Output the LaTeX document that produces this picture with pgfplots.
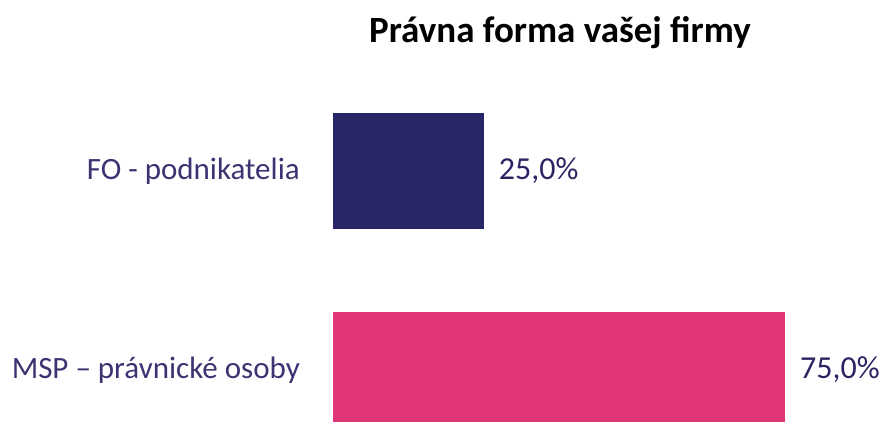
\documentclass[border=0pt]{standalone}
\usepackage{pgfplots}
\pgfplotsset{compat=1.18}
\usepackage{fontspec}
\setmainfont{Carlito}
\definecolor{navybar}{HTML}{282666}
\definecolor{pinkbar}{HTML}{E03577}
\definecolor{catlab}{HTML}{3B3472}
\definecolor{vallab}{HTML}{2A2562}
\begin{document}
\begin{tikzpicture}
\begin{axis}[
  at={(333pt,-421pt)}, anchor=south west,
  scale only axis, width=452pt, height=349.4pt,
  xbar, bar width=116pt,
  xmin=0, xmax=75, ymin=-0.5, ymax=1.256,
  y dir=reverse,
  axis line style={draw=none},
  xtick=\empty,
  ytick={0,1},
  yticklabels={FO - podnikatelia, MSP – právnické osoby},
  major tick length=0pt,
  y tick label style={inner sep=0pt, anchor=east, xshift=-33pt, font=\fontsize{31}{36}\selectfont, text=catlab},
  /pgf/number format/assume math mode=true,
  point meta=x,
  nodes near coords={\pgfmathprintnumber[fixed, fixed zerofill, precision=1, use comma]{\pgfplotspointmeta}\%},
  every node near coord/.append style={anchor=west, inner sep=0pt, xshift=15pt, font=\fontsize{32}{36}\selectfont, text=vallab},
  clip=false,
]
\addplot[fill=navybar, draw=none, bar shift=0pt] coordinates {(25,0)};
\addplot[fill=pinkbar, draw=none, bar shift=0pt] coordinates {(75,1)};
\end{axis}
\node[anchor=base, inner sep=0pt, font=\fontsize{37}{42}\selectfont\bfseries] at (560pt,-42pt) {Právna forma vašej firmy};
\pgfresetboundingbox
\path[use as bounding box] (0pt,0pt) rectangle (882pt,-421pt);
\end{tikzpicture}
\end{document}
